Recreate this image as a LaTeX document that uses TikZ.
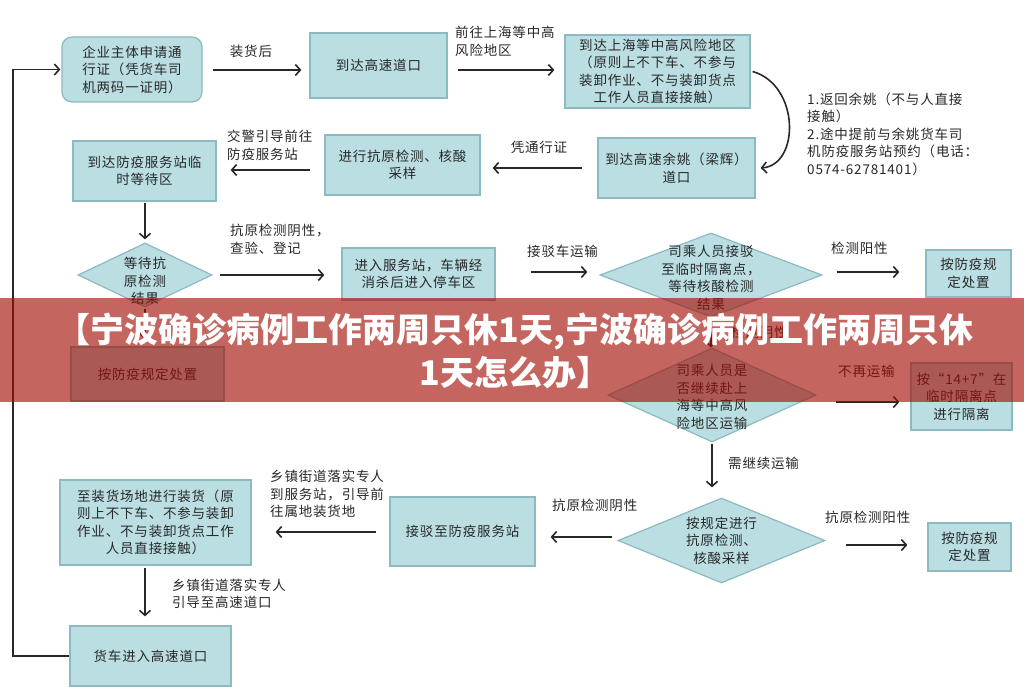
\documentclass[tikz,border=0pt]{standalone}
\usepackage{fontspec}
\usetikzlibrary{shapes.geometric,arrows.meta}
\newfontfamily\cjk{Noto Sans CJK SC}[LetterSpace=6]
\newfontfamily\cjkban{Noto Sans CJK SC}
\definecolor{boxfill}{RGB}{186,222,226}
\definecolor{boxline}{RGB}{140,186,192}
\definecolor{ink}{RGB}{40,40,40}
\definecolor{bannerred}{RGB}{162,12,2}
\begin{document}
\begin{tikzpicture}[x=1pt,y=-1pt,
  txt/.style={font=\cjk\fontsize{13.5}{17.5}\selectfont, text=ink},
  box/.style={txt, draw=boxline, fill=boxfill, line width=1.2pt, align=center, inner sep=2pt},
  rbox/.style={box, rounded corners=10pt},
  dia/.style={diamond, draw=boxline, fill=boxfill, line width=1.2pt, inner sep=0pt},
  dtxt/.style={txt, align=center, inner sep=0pt},
  lab/.style={txt, anchor=west, align=left, inner sep=0pt},
  arr/.style={draw=ink, line width=1.6pt, -{Straight Barb[length=5pt,width=11pt]}}
]
\useasboundingbox (0,0) rectangle (1024,700);
\fill[white] (0,0) rectangle (1024,700);

% nodes
\node[rbox, minimum width=140, minimum height=65, align=left] (A) at (132,69.5) {企业主体申请通\\行证（凭货车司\\机两码一证明）};
\node[box, minimum width=137, minimum height=65] (B) at (378.5,65.5) {到达高速道口};
\node[box, minimum width=185, minimum height=73] (C) at (657.5,71.5) {到达上海等中高风险地区\\（原则上不下车、不参与\\装卸作业、不与装卸货点\\工作人员直接接触）};
\node[box, minimum width=157, minimum height=60] (D) at (676.5,168) {到达高速余姚（梁辉）\\道口};
\node[box, minimum width=155, minimum height=60] (E) at (402.5,165) {进行抗原检测、核酸\\采样};
\node[box, minimum width=143, minimum height=60] (F) at (144.5,171) {到达防疫服务站临\\时等待区};
\node[dia, minimum width=134, minimum height=64] (G) at (145,275) {};
\node[dtxt] (Gt) at (145,281) {等待抗\\原检测\\结果};
\node[box, minimum width=153, minimum height=52] (H) at (418.5,274) {进入服务站，车辆经\\消杀后进入停车区};
\node[dia, minimum width=222, minimum height=84] (I) at (711,275) {};
\node[dtxt] (It) at (711,278) {司乘人员接驳\\至临时隔离点，\\等待核酸检测\\结果};
\node[box, minimum width=85, minimum height=47] (J) at (968.5,273.5) {按防疫规\\定处置};
\node[box, minimum width=153, minimum height=54] (K) at (147.5,374) {按防疫规定处置};
\node[dia, minimum width=208, minimum height=94] (L) at (712,395) {};
\node[dtxt] (Lt) at (712,397) {司乘人员是\\否继续赴上\\海等中高风\\险地区运输};
\node[box, minimum width=101, minimum height=67] (M) at (961.5,396.5) {按“14+7”在\\临时隔离点\\进行隔离};
\node[dia, minimum width=207, minimum height=85] (N) at (721.5,540.5) {};
\node[dtxt] (Nt) at (721.5,540.5) {按规定进行\\抗原检测、\\核酸采样};
\node[box, minimum width=145, minimum height=69] (O) at (462.5,531.5) {接驳至防疫服务站};
\node[box, minimum width=83, minimum height=48] (P) at (969.5,547) {按防疫规\\定处置};
\node[box, minimum width=191, minimum height=85] (Q) at (155.5,522.5) {至装货场地进行装货（原\\则上不下车、不参与装卸\\作业、不与装卸货点工作\\人员直接接触）};
\node[box, minimum width=161, minimum height=60] (R) at (150.5,656) {货车进入高速道口};

% labels
\node[txt, inner sep=0pt] (l1) at (251,51) {装货后};
\node[lab] (l2) at (455,41.5) {前往上海等中高\\风险地区};
\node[txt, inner sep=0pt] (l3) at (539,147) {凭通行证};
\node[lab] (l4) at (227,145.5) {交警引导前往\\防疫服务站};
\node[lab] (l5) at (230,239) {抗原检测阴性，\\查验、登记};
\node[lab] (l6) at (527,251) {接驳车运输};
\node[lab] (l7) at (831,248) {检测阳性};
\node[lab] (l8) at (731,332) {检测阴性};
\node[lab] (l9) at (838,371) {不再运输};
\node[lab] (l10) at (728,463) {需继续运输};
\node[lab] (l11) at (552,505) {抗原检测阴性};
\node[lab] (l12) at (825,517) {抗原检测阳性};
\node[lab] (l13) at (270,494) {乡镇街道落实专人\\到服务站，引导前\\往属地装货地};
\node[lab] (l14) at (172,594) {乡镇街道落实专人\\引导至高速道口};
\node[lab] (note) at (807,134) {1.返回余姚（不与人直接\\接触）\\2.途中提前与余姚货车司\\机防疫服务站预约（电话：\\0574-62781401）};

% connectors
\draw[arr, shorten <=10pt, shorten >=8pt] (A.east |- 0,70) -- (B.west |- 0,70);
\draw[arr, shorten <=10pt, shorten >=10pt] (B.east |- 0,70) -- (C.west |- 0,70);
\draw[arr] ([xshift=2pt]C.east) .. controls (800,85) and (800,165) .. ([xshift=5pt]D.east);
\draw[arr, shorten <=15pt, shorten >=12pt] (D.west |- 0,168) -- (E.east |- 0,168);
\draw[arr, shorten <=14pt, shorten >=14pt] (E.west |- 0,170) -- (F.east |- 0,170);
\draw[arr, shorten <=1pt, shorten >=3pt] (F.south -| G.north) -- (G.north);
\draw[arr, shorten <=7pt, shorten >=17pt] (G.east |- 0,275) -- (H.west |- 0,275);
\draw[arr, shorten <=35pt, shorten >=12pt] (H.east |- 0,272) -- (I.west |- 0,272);
\draw[arr, shorten <=14pt, shorten >=26pt] (I.east |- 0,272) -- (J.west |- 0,272);
\draw[arr, shorten <=1pt, shorten >=7pt] (G.south) -- (G.south |- K.north);
\draw[arr, shorten <=1pt] (I.south) -- (I.south |- L.north);
\draw[arr, shorten <=19pt, shorten >=11pt] (L.east |- 0,402) -- (M.west |- 0,402);
\draw[arr, shorten <=1pt, shorten >=10pt] (L.south) -- (L.south |- N.north);
\draw[arr, shorten <=5pt, shorten >=15pt] (N.west |- 0,537) -- (O.east |- 0,537);
\draw[arr, shorten <=20pt, shorten >=20pt] (N.east |- 0,545) -- (P.west |- 0,545);
\draw[arr, shorten <=13pt, shorten >=24pt] (O.west |- 0,532) -- (Q.east |- 0,532);
\draw[arr, shorten <=2pt, shorten >=9pt] (Q.south -| 145,0) -- (R.north -| 145,0);
\coordinate (fb) at (13,656);
\draw[arr, shorten >=1pt] (R.west) -- (fb) |- (A.west);

% banner
\fill[bannerred, opacity=0.63] (0,298) rectangle (1024,402);
\node[font=\cjkban\bfseries\fontsize{34}{43}\selectfont, text=white, align=center, inner sep=0pt] (title) at (515,351) {【宁波确诊病例工作两周只休1天,宁波确诊病例工作两周只休\\1天怎么办】};
\end{tikzpicture}
\end{document}
